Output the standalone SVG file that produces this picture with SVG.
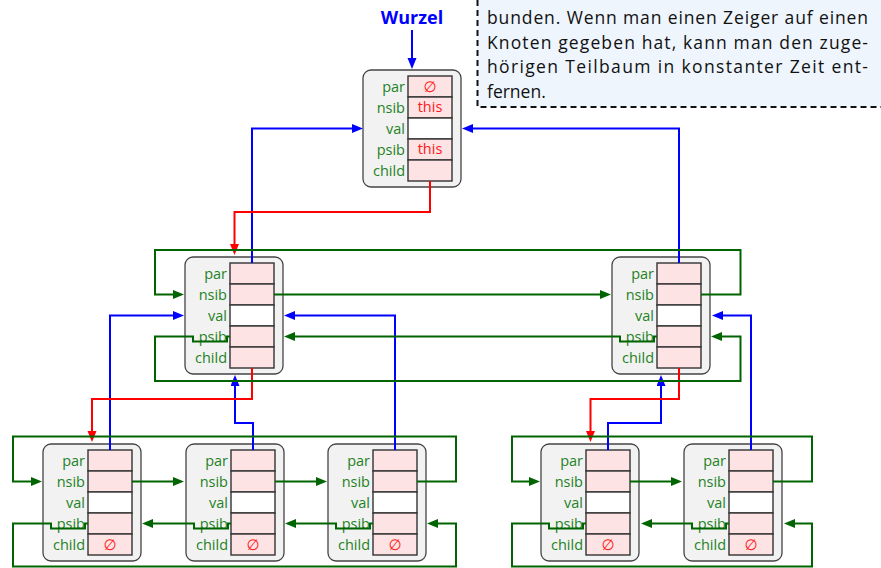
<svg xmlns="http://www.w3.org/2000/svg" width="881" height="568" viewBox="0 0 881 568">
<style>
.box{fill:#f2f2f2;stroke:#444;stroke-width:1.3}
.cell{fill:#fde3e3;stroke:#333;stroke-width:1.4}
.vcell{fill:#ffffff;stroke:#333;stroke-width:1.4}
.lbl{font-family:"Open Sans","DejaVu Sans",sans-serif;font-size:14.5px;fill:#1f821f;text-anchor:end}
.val{font-family:"Open Sans","DejaVu Sans",sans-serif;font-size:14.5px;fill:#ff1a1a;text-anchor:middle}
.nil{font-family:"DejaVu Sans",sans-serif;font-size:15px;fill:#ff1a1a;text-anchor:middle}
.txt{font-family:"Open Sans","DejaVu Sans",sans-serif;font-size:17.5px;fill:#111}
.b{fill:none;stroke:#0000ff;stroke-width:2;marker-end:url(#ab)}
.r{fill:none;stroke:#ff0000;stroke-width:2;marker-end:url(#ar)}
.g{fill:none;stroke:#006400;stroke-width:2;marker-end:url(#ag)}
</style>
<defs>
<marker id="ab" markerUnits="userSpaceOnUse" markerWidth="12" markerHeight="10" refX="6" refY="4.5" orient="auto"><path d="M0,0 L11,4.5 L0,9 z" fill="#0000ff"/></marker>
<marker id="ar" markerUnits="userSpaceOnUse" markerWidth="12" markerHeight="10" refX="6" refY="4.5" orient="auto"><path d="M0,0 L11,4.5 L0,9 z" fill="#ff0000"/></marker>
<marker id="ag" markerUnits="userSpaceOnUse" markerWidth="12" markerHeight="10" refX="6" refY="4.5" orient="auto"><path d="M0,0 L11,4.5 L0,9 z" fill="#006400"/></marker>
<g id="fields">
<rect class="box" x="0" y="0" width="98" height="117" rx="8"/>
<rect class="cell" x="45" y="6" width="44" height="21"/>
<rect class="cell" x="45" y="27" width="44" height="21"/>
<rect class="vcell" x="45" y="48" width="44" height="21"/>
<rect class="cell" x="45" y="69" width="44" height="21"/>
<rect class="cell" x="45" y="90" width="44" height="21"/>
<text class="lbl" x="42" y="21.5">par</text>
<text class="lbl" x="42" y="42.5">nsib</text>
<text class="lbl" x="42" y="63.5">val</text>
<text class="lbl" x="42" y="84.5">psib</text>
<text class="lbl" x="42" y="105.5">child</text>
</g>
</defs>

<g id="textbox">
<rect x="477.5" y="-2" width="406" height="109" fill="#eef5fd"/>
<path d="M477.5 0 V107 H881" fill="none" stroke="#111" stroke-width="2" stroke-dasharray="6 4"/>
<text class="txt" x="487" y="24" textLength="381" lengthAdjust="spacing">bunden. Wenn man einen Zeiger auf einen</text>
<text class="txt" x="487" y="48.5" textLength="381" lengthAdjust="spacing">Knoten gegeben hat, kann man den zuge-</text>
<text class="txt" x="487" y="73" textLength="381" lengthAdjust="spacing">hörigen Teilbaum in konstanter Zeit ent-</text>
<text class="txt" x="487" y="97.5">fernen.</text>
</g>

<g id="wurzel">
<text x="412" y="24" font-family="'Open Sans','DejaVu Sans',sans-serif" font-size="18px" font-weight="bold" fill="#0000ff" text-anchor="middle">Wurzel</text>
<path class="b" d="M412 30 V64"/>
</g>

<g id="root" transform="translate(363,70)">
<use href="#fields"/>
<text class="nil" x="67" y="21.5">∅</text>
<text class="val" x="67" y="42">this</text>
<text class="val" x="67" y="84">this</text>
</g>
<g id="midL" transform="translate(185,257)"><use href="#fields"/></g>
<g id="midR" transform="translate(612,257)"><use href="#fields"/></g>
<g id="b1" transform="translate(43,444)"><use href="#fields"/><text class="nil" x="67" y="105.5">∅</text></g>
<g id="b2" transform="translate(186,444)"><use href="#fields"/><text class="nil" x="67" y="105.5">∅</text></g>
<g id="b3" transform="translate(328,444)"><use href="#fields"/><text class="nil" x="67" y="105.5">∅</text></g>
<g id="b4" transform="translate(541,444)"><use href="#fields"/><text class="nil" x="67" y="105.5">∅</text></g>
<g id="b5" transform="translate(684,444)"><use href="#fields"/><text class="nil" x="67" y="105.5">∅</text></g>

<g id="connectors">
<path class="b" d="M252 263 V128.5 H358"/>
<path class="b" d="M679 263 V128.5 H467"/>
<path class="b" d="M110 450 V315.5 H179"/>
<path class="b" d="M253 450 V423 H235 V380"/>
<path class="b" d="M395 450 V315.5 H289"/>
<path class="b" d="M608 450 V423 H661 V380"/>
<path class="b" d="M751 450 V315.5 H717"/>

<path class="r" d="M430 181 V212 H234.5 V250"/>
<path class="r" d="M252 368 V399 H92 V437"/>
<path class="r" d="M679 368 V399 H590.5 V437"/>

<path class="g" d="M274 294.5 H606"/>
<path class="g" d="M701 294.5 H740.5 V250 H155 V294.5 H179"/>
<path class="g" d="M657 336.5 H654 V341.5 H620 V336.5 H289"/>
<path class="g" d="M230 336.5 H227 V341.5 H193 V336.5 H155 V381 H740.5 V336.5 H716"/>

<path class="g" d="M132 481.5 H179"/>
<path class="g" d="M275 481.5 H322"/>
<path class="g" d="M417 481.5 H456 V436.5 H13 V481.5 H37"/>
<path class="g" d="M373 523.5 H370 V528.5 H336 V523.5 H290"/>
<path class="g" d="M231 523.5 H228 V528.5 H194 V523.5 H147"/>
<path class="g" d="M88 523.5 H85 V528.5 H51 V523.5 H13 V566.5 H456 V523.5 H432"/>

<path class="g" d="M630 481.5 H677"/>
<path class="g" d="M773 481.5 H812 V436.5 H512 V481.5 H535"/>
<path class="g" d="M729 523.5 H726 V528.5 H692 V523.5 H646"/>
<path class="g" d="M586 523.5 H583 V528.5 H549 V523.5 H512 V566.5 H812 V523.5 H789"/>
</g>
</svg>
